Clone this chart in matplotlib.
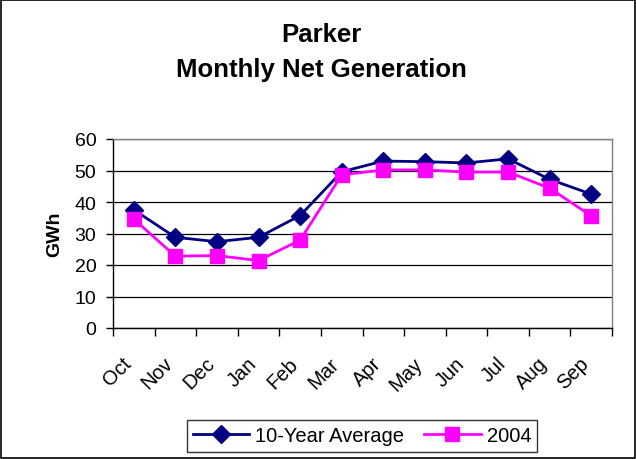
import numpy as np
import matplotlib as mpl
import matplotlib.pyplot as plt
from matplotlib.ticker import FixedLocator, NullFormatter
from matplotlib.transforms import ScaledTranslation

mpl.rcParams.update({
    "font.family": "sans-serif", "font.sans-serif": ["Liberation Sans", "DejaVu Sans"],
})

months = ["Oct", "Nov", "Dec", "Jan", "Feb", "Mar", "Apr", "May", "Jun", "Jul", "Aug", "Sep"]
avg10 = [37.5, 28.8, 27.4, 28.8, 35.7, 49.6, 53.0, 52.8, 52.4, 53.7, 47.2, 42.5]
y2004 = [34.6, 22.8, 23.0, 21.4, 27.9, 48.6, 50.2, 50.2, 49.5, 49.5, 44.4, 35.6]

NAVY = "#000080"
MAG = "#FF00FF"

fig = plt.figure(figsize=(6.36, 4.6), dpi=100)
fig.patches.append(plt.Rectangle((0.002, 0.002), 0.996, 0.996, transform=fig.transFigure,
                                 fill=False, edgecolor="black", lw=1.2))
ax = fig.add_axes([113 / 636, 1 - 329 / 460, (612 - 113) / 636, (329 - 140) / 460])

x = np.arange(len(months))
ax.plot(x, avg10, color=NAVY, lw=2, marker="D", ms=9, mec=NAVY, mfc=NAVY, label="10-Year Average")
ax.plot(x, y2004, color=MAG, lw=2, marker="s", ms=10, mec=MAG, mfc=MAG, label="2004")

ax.set_xlim(-0.5, len(months) - 0.5)
ax.set_ylim(0, 60)
ax.set_yticks(range(0, 61, 10))
ax.yaxis.grid(True, color="black", lw=0.9)
ax.set_axisbelow(True)
ax.tick_params(axis="y", labelsize=14, length=5, direction="out", width=1, pad=7)

ax.xaxis.set_major_locator(FixedLocator(x))
ax.set_xticklabels(months, rotation=45, ha="right", va="top", rotation_mode="anchor", fontsize=14.5)
ax.xaxis.set_minor_locator(FixedLocator(np.arange(-0.5, len(months), 1)))
ax.xaxis.set_minor_formatter(NullFormatter())
ax.tick_params(axis="x", which="major", length=0, pad=14)
ax.tick_params(axis="x", which="minor", length=6, direction="out", width=1)
shift = ScaledTranslation(-0.12, -0.06, fig.dpi_scale_trans)
for lab in ax.get_xticklabels():
    lab.set_transform(lab.get_transform() + shift)

for s in ax.spines.values():
    s.set_linewidth(1)
ax.spines["top"].set_color("#808080")
ax.spines["right"].set_color("#808080")

ax.set_ylabel("GWh", fontsize=14, fontweight="bold", labelpad=8)
fig.text(321 / 636, 1 - 35 / 460, "Parker", ha="center", va="center", fontsize=18.5, fontweight="bold")
fig.text(321 / 636, 1 - 70 / 460, "Monthly Net Generation", ha="center", va="center",
         fontsize=18.5, fontweight="bold")

leg = fig.legend(loc="center", bbox_to_anchor=(362 / 636, 1 - 437 / 460), ncol=2,
                 fontsize=14.5, frameon=True, fancybox=False, edgecolor="black",
                 handlelength=2.8, columnspacing=1.0, handletextpad=0.3, borderpad=0.3)
leg.get_frame().set_linewidth(1)

fig.savefig("out.png", dpi=100)
